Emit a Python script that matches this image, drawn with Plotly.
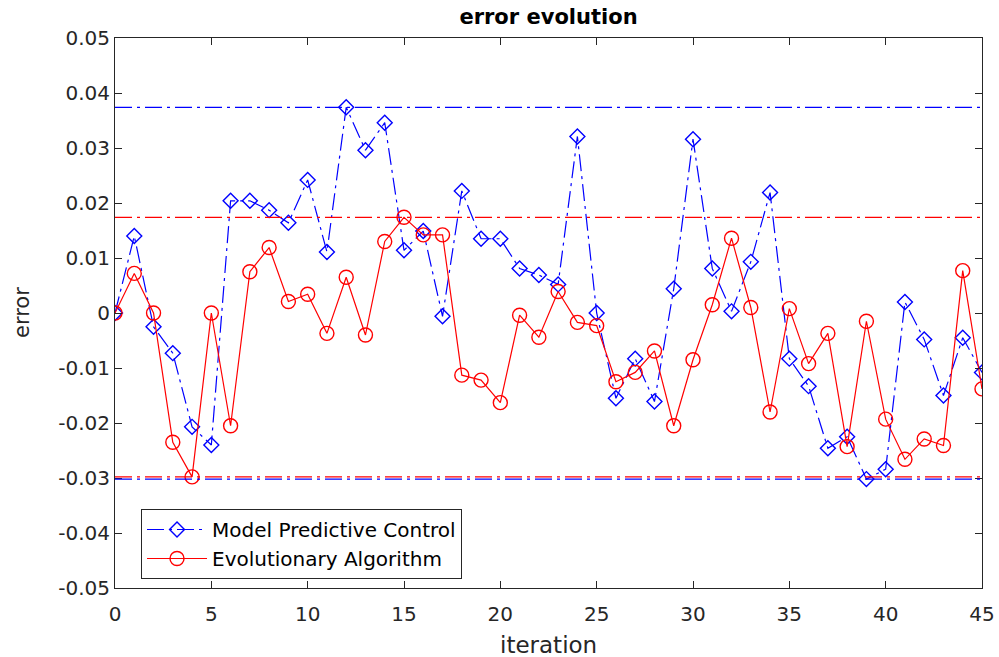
import plotly.graph_objects as go

iterations = list(range(46))
mpc = [0.0, 0.0140, -0.0025, -0.0073, -0.0207, -0.0240, 0.0204, 0.0204, 0.0187, 0.0164,
       0.0242, 0.0111, 0.0374, 0.0296, 0.0346, 0.0114, 0.0149, -0.0006, 0.0222, 0.0135,
       0.0135, 0.0081, 0.0069, 0.0052, 0.0321, 0.0, -0.0155, -0.0083, -0.0161, 0.0044,
       0.0316, 0.0081, 0.0003, 0.0093, 0.0219, -0.0083, -0.0133, -0.0246, -0.0225, -0.0302,
       -0.0284, 0.0020, -0.0048, -0.0150, -0.0045, -0.0108]
ea = [0.0, 0.0072, 0.0, -0.0235, -0.0298, 0.0, -0.0205, 0.0075, 0.0119, 0.0021,
      0.0034, -0.0037, 0.0065, -0.0040, 0.0130, 0.0174, 0.0142, 0.0142, -0.0113, -0.0122,
      -0.0163, -0.0004, -0.0044, 0.0039, -0.0017, -0.0023, -0.0125, -0.0108, -0.0069, -0.0205,
      -0.0085, 0.0015, 0.0136, 0.0010, -0.0180, 0.0008, -0.0092, -0.0037, -0.0243, -0.0015,
      -0.0193, -0.0266, -0.0229, -0.0241, 0.0077, -0.0138]

y_ticks = [-0.05, -0.04, -0.03, -0.02, -0.01, 0, 0.01, 0.02, 0.03, 0.04, 0.05]
y_tick_text = ["-0.05", "-0.04", "-0.03", "-0.02", "-0.01", "0", "0.01", "0.02", "0.03", "0.04", "0.05"]
x_ticks = [0, 5, 10, 15, 20, 25, 30, 35, 40, 45]

BLUE = "#0000FF"
RED = "#FF0000"
DASHDOT = "17px,5px,3px,5px"
FONT = "DejaVu Sans"
AX = "#262626"

fig = go.Figure()
fig.add_trace(go.Scatter(
    x=iterations, y=mpc, mode="lines+markers", name="Model Predictive Control",
    line=dict(color=BLUE, width=1.2, dash=DASHDOT),
    marker=dict(symbol="diamond-open", size=11.5, color=BLUE, line=dict(width=1.4, color=BLUE)),
))
fig.add_trace(go.Scatter(
    x=iterations, y=ea, mode="lines+markers", name="Evolutionary Algorithm",
    line=dict(color=RED, width=1.2),
    marker=dict(symbol="circle-open", size=14, color=RED, line=dict(width=1.4, color=RED)),
))

for val, col in [(max(mpc), BLUE), (max(ea), RED), (min(ea), RED), (min(mpc), BLUE)]:
    fig.add_shape(type="line", xref="paper", x0=0, x1=1, yref="y", y0=val, y1=val,
                  line=dict(color=col, width=1.2, dash=DASHDOT))

fig.add_annotation(text="iteration", xref="paper", yref="paper", x=0.5, y=(588 - 645) / 550,
                   xanchor="center", yanchor="middle", showarrow=False,
                   font=dict(family=FONT, size=23, color=AX))
fig.add_annotation(text="error", xref="paper", yref="paper", x=(22 - 115) / 867, y=0.5,
                   xanchor="center", yanchor="middle", showarrow=False, textangle=-90,
                   font=dict(family=FONT, size=21, color=AX))

fig.update_layout(
    width=999, height=657,
    margin=dict(l=115, r=17, t=38, b=69, autoexpand=False),
    paper_bgcolor="white", plot_bgcolor="white",
    font=dict(family=FONT, color=AX, size=20),
    title=dict(text="<b>error evolution</b>", x=0.5, xref="paper", xanchor="center",
               y=1 - 17 / 657, yref="container", yanchor="middle",
               font=dict(family=FONT, size=21, color="#000000")),
    showlegend=True,
    legend=dict(x=0.03, y=0.1436, xanchor="left", yanchor="top",
                bgcolor="white", bordercolor=AX, borderwidth=1,
                font=dict(family=FONT, size=20, color="#000000"),
                itemwidth=60, tracegroupgap=0),
)
fig.update_xaxes(
    range=[0, 45], tickvals=x_ticks, ticks="inside", ticklen=7, tickcolor=AX,
    showline=True, linecolor=AX, linewidth=1, mirror="ticks", showgrid=False, zeroline=False,
    tickfont=dict(family=FONT, size=20, color=AX), ticklabelstandoff=8, automargin=False,
)
fig.update_yaxes(
    range=[-0.05, 0.05], tickvals=y_ticks, ticktext=y_tick_text, ticks="inside", ticklen=7,
    tickcolor=AX, showline=True, linecolor=AX, linewidth=1, mirror="ticks", showgrid=False,
    zeroline=False, tickfont=dict(family=FONT, size=20, color=AX), automargin=False,
)

fig.write_html("out.html")
